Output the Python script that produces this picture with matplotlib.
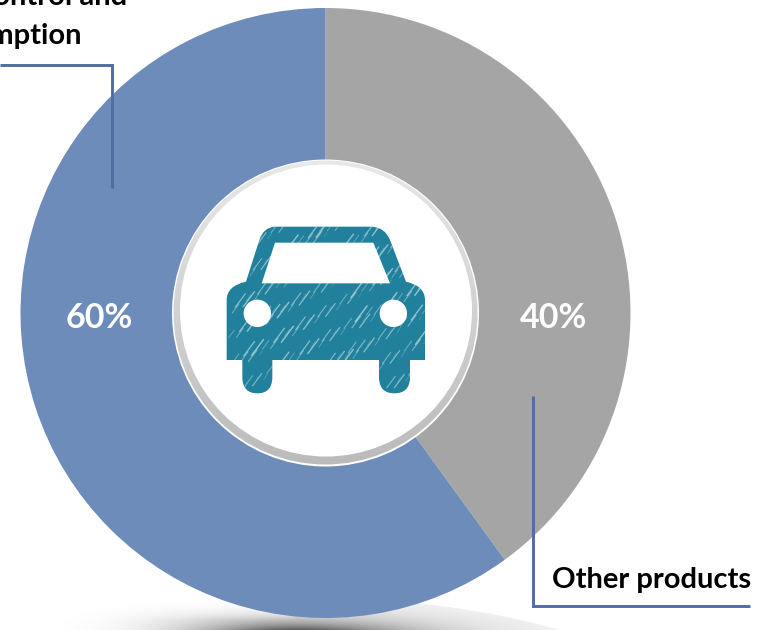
"""Donut chart of product share with a car icon in the middle."""

import numpy as np
import matplotlib
matplotlib.use("Agg")
import matplotlib.pyplot as plt
from matplotlib.patches import Circle, Ellipse, PathPatch
from matplotlib.path import Path

W, H = 764, 630

# Chart data
categories = ["Other products", "Control and consumption"]
shares = [40, 60]
share_labels = ["40%", "60%"]
colors = ["#a5a5a5", "#6d8cb9"]

plt.rcParams["font.family"] = ["Lato", "DejaVu Sans"]
LINE = "#4f6d9f"
TEAL = "#21819d"


def Y(y):
    # the layout is worked out from the top edge
    return H - y


def car_xy(x, y):
    # car outline is drawn on a 990 unit grid placed over the centre disc
    return 160 + x / 3, Y(150 + y / 3)


fig = plt.figure(figsize=(W / 100, H / 100), dpi=100)
ax = fig.add_axes([0, 0, 1, 1])

# Ground shadow under the ring: dies away on the left, hard edge on the right
xx, yy = np.meshgrid(np.arange(0, W), np.arange(585, H + 1))
dx = xx - 295
x_scale = np.where(dx < 0, 95, 112)
r2 = (dx / x_scale) ** 2 + ((yy - 640) / 17) ** 2
fade = np.where(dx < 0, np.exp(-(np.abs(dx) / 185) ** 4) * np.clip((yy - 600) / 20, 0, 1), 1.0)
rgba = np.zeros(xx.shape + (4,))
rgba[..., 3] = np.clip(1.05 / (1 + r2) ** 1.5 * fade, 0, 1)
img = ax.imshow(rgba, extent=(0, W, Y(H + 1), Y(585)), zorder=1, aspect="auto")
clip_shape = Ellipse((270, Y(720)), 836, 250, transform=ax.transData, fc="none", ec="none")
ax.add_patch(clip_shape)
img.set_clip_path(clip_shape)

# Donut slices, clockwise from twelve o'clock
wedges, _ = ax.pie(shares, colors=colors, startangle=90, counterclock=False,
                   center=(325.5, Y(313)), radius=305, frame=True,
                   wedgeprops={"linewidth": 0})
for w in wedges:
    w.set_zorder(2)

# Centre disc with a bevelled rim
ax.add_patch(Circle((325.5, Y(313)), 153.5, fc="white", ec="none", zorder=3))
rim = np.linspace(0.91, 0.73, 256).reshape(-1, 1)
rim_img = ax.imshow(rim, cmap="gray", vmin=0, vmax=1, aspect="auto", zorder=4,
                    extent=(172, 479, Y(466), Y(159)))
rim_clip = Circle((325.5, Y(312.5)), 152, transform=ax.transData, fc="none", ec="none")
ax.add_patch(rim_clip)
rim_img.set_clip_path(rim_clip)
ax.add_patch(Circle((326, Y(310.5)), 146, fc="white", ec="none", zorder=5))

# Car icon
M, L, C, Z = Path.MOVETO, Path.LINETO, Path.CURVE3, Path.CLOSEPOLY
outline = [
    (M, 345, 230), (L, 635, 230),
    (C, 675, 232), (C, 690, 270),
    (L, 738, 395),
    (C, 795, 408), (C, 795, 450),
    (L, 795, 630), (L, 750, 630), (L, 750, 685),
    (C, 748, 730), (C, 703, 730),
    (C, 659, 730), (C, 657, 685),
    (L, 657, 630), (L, 337, 630), (L, 337, 685),
    (C, 335, 730), (C, 292, 730),
    (C, 249, 730), (C, 247, 685),
    (L, 247, 630), (L, 200, 630), (L, 200, 450),
    (C, 200, 408), (C, 258, 395),
    (L, 298, 270),
    (C, 310, 232), (C, 345, 230),
    (Z, 345, 230),
]
codes = [c for c, _, _ in outline]
verts = [car_xy(x, y) for _, x, y in outline]
car = PathPatch(Path(verts, codes), fc=TEAL, ec="none", zorder=6)
ax.add_patch(car)

# Window and headlights sit on top of the body
window = [(345, 278), (640, 278), (690, 400), (305, 400)]
ax.fill(*zip(*[car_xy(x, y) for x, y in window]), fc="white", ec="none", zorder=8)
for hx in (292, 700):
    ax.add_patch(Circle(car_xy(hx, 490), 13.7, fc="white", ec="none", zorder=8))

# Pencil scratches across the icon, clipped to the outline
n_scratch = 230
fx = (np.arange(n_scratch) * 0.6180339887) % 1
fy = (np.arange(n_scratch) * 0.7548776662) % 1
fl = (np.arange(n_scratch) * 0.5698402910) % 1
for x0, y0, f in zip(fx, fy, fl):
    x0 = 226 + x0 * 198
    y0 = Y(228 + y0 * 165)
    ln, = ax.plot([x0, x0 + 2 + 10 * f], [y0, y0 + 3 + 13 * f], color="white",
                  alpha=0.2 + 0.35 * f, lw=0.4 + 0.6 * f, zorder=7)
    ln.set_clip_path(car)

# Leader lines
ax.plot([0, 112, 112], [Y(64.5), Y(64.5), Y(188)], color=LINE, lw=2.1, zorder=9,
        solid_joinstyle="miter", solid_capstyle="butt")
ax.plot([533, 533, 750], [Y(396), Y(606), Y(606)], color=LINE, lw=2.1, zorder=9,
        solid_joinstyle="miter", solid_capstyle="butt")

# Labels
label_style = {"fontsize": 21, "fontweight": "bold", "zorder": 10, "color": "black"}
ax.text(127, Y(-3), "Control and", ha="right", va="center", **label_style)
ax.text(82, Y(36), "consumption", ha="right", va="center", **label_style)
ax.text(751, Y(580), categories[0], ha="right", va="center", **label_style)
pct_style = {"fontsize": 24.5, "fontweight": "bold", "zorder": 10, "color": "white"}
ax.text(99, Y(318), share_labels[1], ha="center", va="center", **pct_style)
ax.text(553, Y(318), share_labels[0], ha="center", va="center", **pct_style)

ax.set_xlim(0, W)
ax.set_ylim(0, H)
ax.set_aspect("auto")
ax.axis("off")

fig.savefig("out.png", dpi=100)
